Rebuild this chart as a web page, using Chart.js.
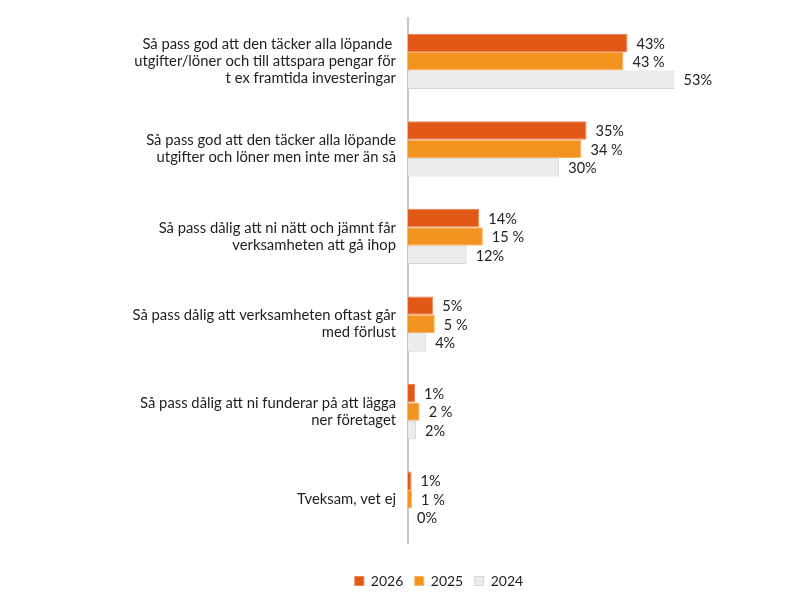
<!DOCTYPE html>
<html>
<head>
<meta charset="utf-8">
<script src="https://cdn.jsdelivr.net/npm/chart.js@4"></script>
<style>
  html, body { margin: 0; padding: 0; background: #fff; }
  #wrap { width: 800px; height: 600px; }
</style>
</head>
<body>
<div id="wrap"><canvas id="barChart"></canvas></div>
<script>
// categories (multi-line labels)
const categories = [
  ['Så pass god att den täcker alla löpande ', 'utgifter/löner och till attspara pengar för', 't ex framtida investeringar'],
  ['Så pass god att den täcker alla löpande', 'utgifter och löner men inte mer än så'],
  ['Så pass dålig att ni nätt och jämnt får', 'verksamheten att gå ihop'],
  ['Så pass dålig att verksamheten oftast går', 'med förlust'],
  ['Så pass dålig att ni funderar på att lägga', 'ner företaget'],
  'Tveksam, vet ej'
];

const seriesNames = ['2026', '2025', '2024'];

// values in percent
const values2026 = [43.4, 35.3, 14.1, 5.0, 1.4, 0.7];
const values2025 = [42.6, 34.3, 14.8, 5.3, 2.3, 0.8];
const values2024 = [52.7, 29.9, 11.6, 3.6, 1.6, 0];

// label suffix per series (2025 is written with a space)
const labelSuffix = ['%', ' %', '%'];

const fontFamily = 'Lato, "Open Sans", sans-serif';

// simple value labels to the right of each bar
const barValueLabels = {
  id: 'barValueLabels',
  afterDatasetsDraw(chart) {
    const ctx = chart.ctx;
    ctx.save();
    ctx.font = '14.5px ' + fontFamily;
    ctx.fillStyle = '#222';
    ctx.textAlign = 'left';
    ctx.textBaseline = 'middle';
    chart.data.datasets.forEach((ds, i) => {
      const meta = chart.getDatasetMeta(i);
      meta.data.forEach((bar, j) => {
        const txt = Math.round(ds.data[j]) + labelSuffix[i];
        ctx.fillText(txt, bar.x + 9, bar.y + 1);
      });
    });
    ctx.restore();
  }
};

const dataBars = {
  labels: categories,
  datasets: [{
    label: seriesNames[0],
    data: values2026,
    backgroundColor: 'rgb(226, 88, 22)',
    borderColor: 'rgb(236, 128, 80)',
    borderWidth: 1
  }, {
    label: seriesNames[1],
    data: values2025,
    backgroundColor: 'rgb(242, 147, 32)',
    borderColor: 'rgb(247, 180, 100)',
    borderWidth: 1
  }, {
    label: seriesNames[2],
    data: values2024,
    backgroundColor: 'rgb(236, 236, 236)',
    borderColor: 'rgb(214, 214, 214)',
    borderWidth: 1
  }]
};

const config = {
  type: 'bar',
  data: dataBars,
  options: {
    indexAxis: 'y',
    responsive: true,
    maintainAspectRatio: false,
    animation: false,
    datasets: {
      bar: {
        barPercentage: 1.0,
        categoryPercentage: 0.63
      }
    },
    layout: {
      padding: { top: 17.5, left: 78, right: 0, bottom: 2 }
    },
    scales: {
      x: {
        min: 0,
        max: 77.5,
        grid: { display: false },
        border: { display: false },
        ticks: { display: false },
        afterFit(scale) { scale.height = 19.5; }
      },
      y: {
        grid: { display: false, drawTicks: false },
        border: { display: true, color: '#c8c8c8', width: 2 },
        ticks: {
          color: '#1e1e1e',
          padding: 12,
          font: { family: fontFamily, size: 14.8, lineHeight: 1.16 }
        },
        afterFit(scale) {
          scale.width = 330;
          // let the layout padding decide the top/bottom
          scale.paddingTop = 0;
          scale.paddingBottom = 0;
        }
      }
    },
    plugins: {
      legend: {
        display: true,
        position: 'bottom',
        labels: {
          boxWidth: 9,
          boxHeight: 9,
          padding: 11.5,
          color: '#1e1e1e',
          font: { family: fontFamily, size: 14 }
        }
      },
      tooltip: { enabled: false }
    }
  },
  plugins: [barValueLabels]
};

const barChart = new Chart(
  document.getElementById('barChart'),
  config
);
</script>
</body>
</html>
